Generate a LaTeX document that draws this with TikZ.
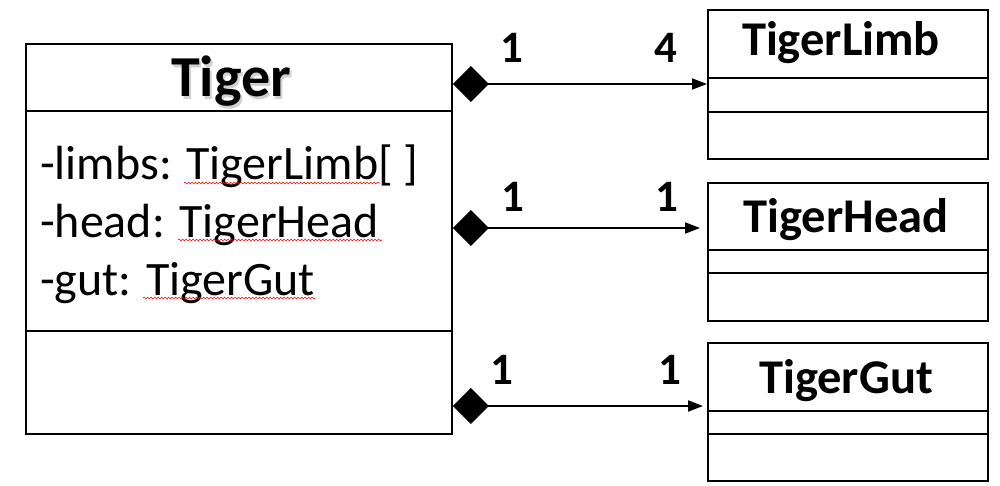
\documentclass[tikz,border=0pt]{standalone}
\usepackage{fontspec}
\setmainfont{Carlito}
\usetikzlibrary{arrows.meta,decorations.pathmorphing}
\begin{document}
\begin{tikzpicture}[x=1pt,y=-1pt,
  box/.style={draw,line width=1.8pt,anchor=north west,inner sep=0pt,minimum width=#1},
  sep/.style={line width=1.8pt},
  cname/.style={font=\fontsize{48.5}{54}\selectfont\bfseries,anchor=base,inner sep=0pt},
  mult/.style={font=\fontsize{45}{52}\selectfont\bfseries,anchor=base,inner sep=0pt},
  attr/.style={font=\fontsize{48}{56}\selectfont,anchor=base west,inner sep=0pt},
  comp/.style={line width=1.8pt,{Diamond[length=36pt,width=36pt,line width=0pt]}-{Triangle[length=15pt,width=11pt]}},
  squig/.style={red,line width=0.6pt,decorate,decoration={snake,segment length=3.5pt,amplitude=0.9pt}}]
\useasboundingbox (0,0) rectangle (1000,486);
% Tiger class
\node[box=426pt,minimum height=390pt] (tiger) at (25,43) {};
\draw[sep] (tiger.west |- 0,111) -- (tiger.east |- 0,111);
\draw[sep] (tiger.west |- 0,331) -- (tiger.east |- 0,331);
\node[font=\fontsize{58}{64}\selectfont\bfseries,anchor=base,inner sep=0pt,text=black!18] (tshadow) at (233,99.5) {Tiger};
\node[font=\fontsize{58}{64}\selectfont\bfseries,anchor=base,inner sep=0pt] (tname) at (231,97) {Tiger};
\node[attr] (a1) at (40,180) {-limbs: TigerLimb[ ]};
\node[attr] (a2) at (40,237) {-head: TigerHead};
\node[attr] (a3) at (40,295) {-gut: TigerGut};
\draw[squig] (184,183) -- (380,183);
\draw[squig] (178,240) -- (382,240);
\draw[squig] (143,298) -- (315,298);
% TigerLimb
\node[box=280pt,minimum height=149pt] (limb) at (707,9) {};
\draw[sep] (limb.west |- 0,78) -- (limb.east |- 0,78);
\draw[sep] (limb.west |- 0,112) -- (limb.east |- 0,112);
\node[cname] (limbname) at (841,56) {TigerLimb};
% TigerHead
\node[box=280pt,minimum height=138pt] (head) at (707,182) {};
\draw[sep] (head.west |- 0,250) -- (head.east |- 0,250);
\draw[sep] (head.west |- 0,273) -- (head.east |- 0,273);
\node[cname] (headname) at (846,233) {TigerHead};
% TigerGut
\node[box=280pt,minimum height=138pt] (gut) at (707,342) {};
\draw[sep] (gut.west |- 0,411) -- (gut.east |- 0,411);
\draw[sep] (gut.west |- 0,434) -- (gut.east |- 0,434);
\node[cname] (gutname) at (846,393) {TigerGut};
% compositions
\coordinate (yl) at (0,84);
\coordinate (yh) at (0,228);
\coordinate (yg) at (0,406);
\draw[comp] (tiger.east |- yl) -- (limb.west |- yl);
\draw[comp,shorten >=7pt] (tiger.east |- yh) -- (head.west |- yh);
\draw[comp,shorten >=4pt] (tiger.east |- yg) -- (gut.west |- yg);
% multiplicities
\node[mult] (m1a) at (512,63) {1};
\node[mult] (m1b) at (666,63) {4};
\node[mult] (m2a) at (513,212) {1};
\node[mult] (m2b) at (667,212) {1};
\node[mult] (m3a) at (502,384) {1};
\node[mult] (m3b) at (670,384) {1};
\end{tikzpicture}
\end{document}
